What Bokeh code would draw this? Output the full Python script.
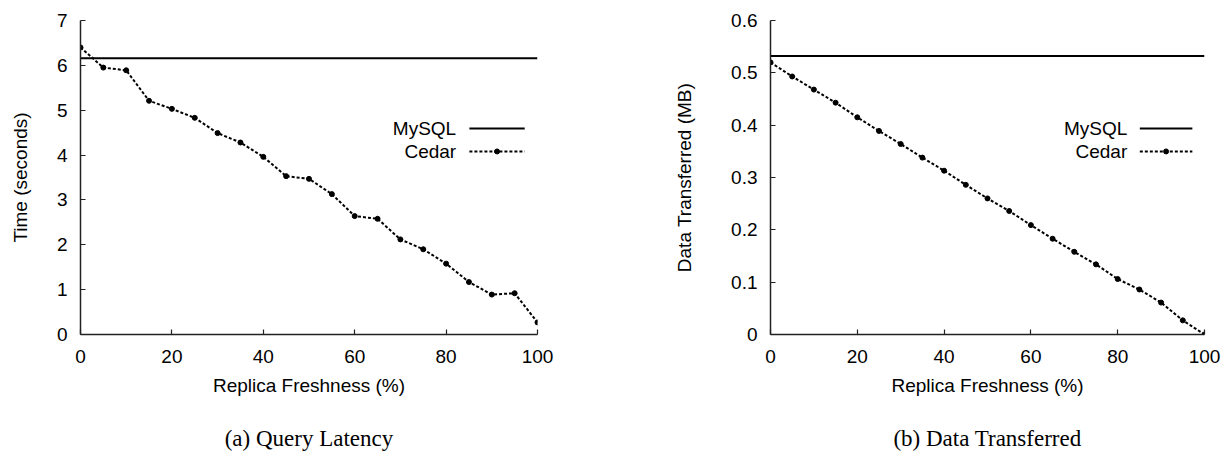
from bokeh.plotting import figure
from bokeh.layouts import row
from bokeh.models import Range1d, FixedTicker, CustomJSTickFormatter, Label, Title
from bokeh.embed import file_html
from bokeh.resources import INLINE

# ---------------- data ----------------
freshness = [0, 5, 10, 15, 20, 25, 30, 35, 40, 45, 50, 55, 60, 65, 70, 75, 80, 85, 90, 95, 100]
latency_cedar = [6.40, 5.95, 5.89, 5.21, 5.03, 4.83, 4.49, 4.28, 3.96, 3.53, 3.47,
                 3.13, 2.64, 2.58, 2.12, 1.90, 1.58, 1.17, 0.89, 0.92, 0.27]
latency_mysql = 6.16
transfer_cedar = [0.520, 0.493, 0.468, 0.443, 0.415, 0.389, 0.364, 0.338, 0.313, 0.286, 0.260,
                  0.236, 0.209, 0.183, 0.158, 0.134, 0.106, 0.086, 0.061, 0.027, 0.0]
transfer_mysql = 0.532

x_ticks = [0, 20, 40, 60, 80, 100]
x_tick_labels = ["0", "20", "40", "60", "80", "100"]
lat_ticks = [0, 1, 2, 3, 4, 5, 6, 7]
lat_tick_labels = ["0", "1", "2", "3", "4", "5", "6", "7"]
tr_ticks = [0, 0.1, 0.2, 0.3, 0.4, 0.5, 0.6]
tr_tick_labels = ["0", "0.1", "0.2", "0.3", "0.4", "0.5", "0.6"]

series_names = ["MySQL", "Cedar"]
x_title = "Replica Freshness (%)"
captions = ["(a) Query Latency", "(b) Data Transferred"]
y_titles = ["Time (seconds)", "Data Transferred (MB)"]

# ---------------- style ----------------
SANS = "Liberation Sans"
SERIF = "Liberation Serif"
FS = "19px"
FRAME_H = 314
TOP = 20

fmt_code = """
let best = -1;
for (let i = 0; i < tvals.length; i++) {
  if (Math.abs(tvals[i] - tick) < 1e-9) { best = i; }
}
return best >= 0 ? tlabels[best] : "";
"""


def panel(width, left, frame_w, ymax, yt, ytl, cedar, mysql, ytitle, caption, ylab_standoff):
    p = figure(frame_width=frame_w, frame_height=FRAME_H, output_backend="svg",
               toolbar_location=None,
               x_range=Range1d(0, 100), y_range=Range1d(0, ymax),
               min_border_left=left, min_border_right=width - left - frame_w,
               min_border_top=TOP, min_border_bottom=0)
    p.outline_line_color = None
    p.grid.visible = False
    p.background_fill_color = "white"
    p.border_fill_color = "white"

    for ax, ticks, labels in ((p.xaxis[0], x_ticks, x_tick_labels), (p.yaxis[0], yt, ytl)):
        ax.ticker = FixedTicker(ticks=ticks)
        ax.formatter = CustomJSTickFormatter(args=dict(tvals=ticks, tlabels=labels), code=fmt_code)
        ax.minor_tick_line_color = None
        ax.major_tick_in = 5
        ax.major_tick_out = 0
        ax.axis_line_color = "#222222"
        ax.axis_line_width = 1.5
        ax.major_tick_line_color = "#222222"
        ax.major_tick_line_width = 1.2
        ax.major_label_text_font = SANS
        ax.major_label_text_font_size = FS
        ax.major_label_text_color = "black"
        ax.axis_label_text_font = SANS
        ax.axis_label_text_font_size = FS
        ax.axis_label_text_font_style = "normal"
        ax.axis_label_text_color = "black"

    p.xaxis.axis_label = x_title
    p.xaxis.major_label_standoff = 15
    p.xaxis.axis_label_standoff = 9
    p.yaxis.axis_label = ytitle
    p.yaxis.major_label_standoff = 13
    p.yaxis.axis_label_standoff = ylab_standoff

    # series
    p.line(freshness, [mysql] * len(freshness), line_color="black", line_width=2)
    p.line(freshness, cedar, line_color="black", line_width=2, line_dash="3 2")
    p.scatter(freshness, cedar, size=5, color="black")

    # legend (gnuplot style: text left of sample)
    def fx(f):
        return 0 + f * 100

    def fy(f):
        return 0 + f * ymax

    rows = [0.656, 0.583]
    for i, name in enumerate(series_names):
        p.add_layout(Label(x=fx(0.822), y=fy(rows[i]), text=name, text_align="right",
                           text_baseline="middle", text_font=SANS, text_font_size=FS,
                           text_color="black"))
    p.line([fx(0.851), fx(0.972)], [fy(rows[0])] * 2, line_color="black", line_width=2)
    p.line([fx(0.851), fx(0.972)], [fy(rows[1])] * 2, line_color="black", line_width=2,
           line_dash="3 2")
    p.scatter([fx(0.9115)], [fy(rows[1])], size=5, color="black")

    # caption below the axis title
    p.add_layout(Title(text=caption, align="center", text_font=SERIF, text_font_size="23px",
                       text_font_style="normal", text_color="black", standoff=50), "below")
    return p


p1 = panel(650, 80, 457, 7, lat_ticks, lat_tick_labels, latency_cedar, latency_mysql,
           y_titles[0], captions[0], 23)
p2 = panel(573, 120, 434, 0.6, tr_ticks, tr_tick_labels, transfer_cedar, transfer_mysql,
           y_titles[1], captions[1], 33)

layout = row(p1, p2)
open("out.html", "w").write(file_html(layout, INLINE))
